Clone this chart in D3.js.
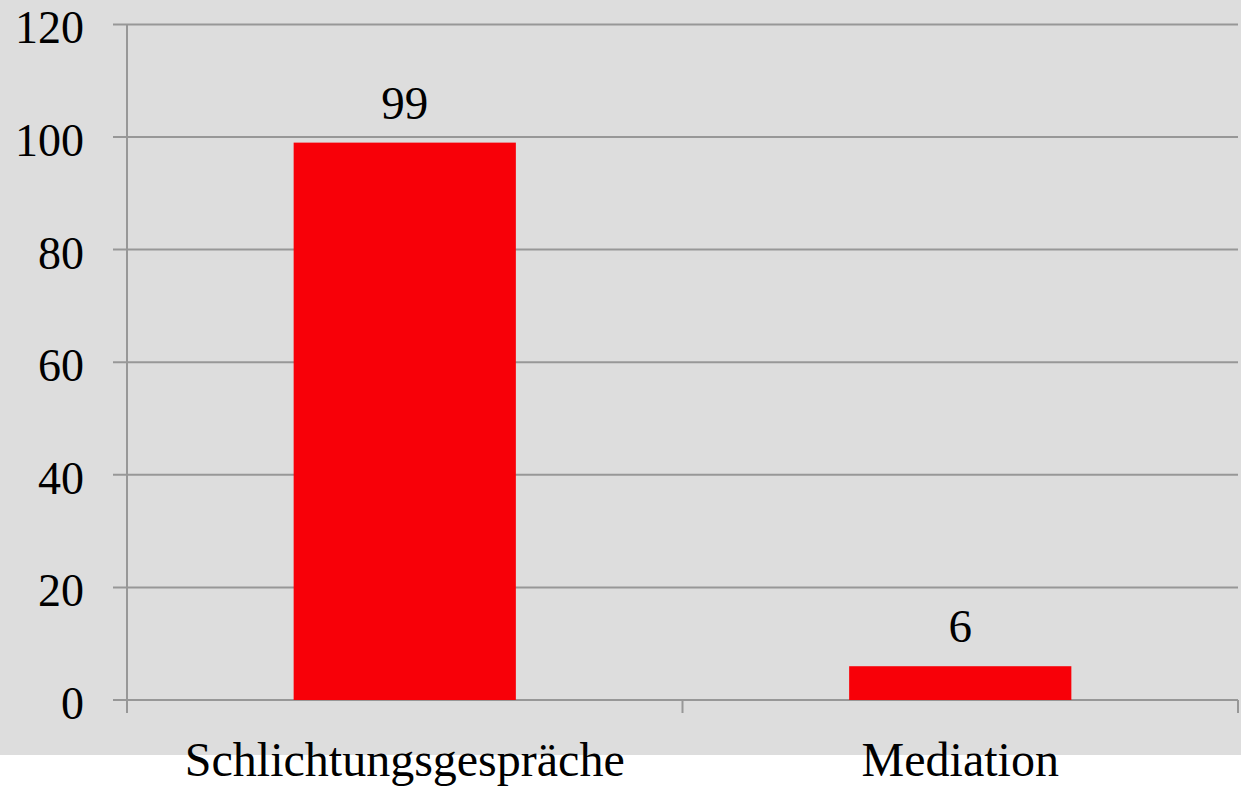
<!DOCTYPE html>
<html>
<head>
<meta charset="utf-8">
<script src="https://cdn.jsdelivr.net/npm/d3@7"></script>
<style>
  body { margin: 0; background: #ffffff; }
  text { font-family: "Liberation Serif", "Times New Roman", serif; fill: #000; }
</style>
</head>
<body>
<div id="chart"></div>
<script>
// data
var categories = ["Schlichtungsgespräche", "Mediation"];
var values = [99, 6];
var yTicks = [0, 20, 40, 60, 80, 100, 120];

var W = 1241, H = 788;
var margin = {top: 24.4, right: 3, bottom: 88, left: 127},
    width = W - margin.left - margin.right,
    height = 700 - margin.top;

var svg = d3.select("#chart")
  .append("svg")
    .attr("width", W)
    .attr("height", H);

// grey plot background (ends above the category labels)
svg.append("rect")
  .attr("x", 0).attr("y", 0)
  .attr("width", W).attr("height", 755)
  .attr("fill", "#dddddd");

var g = svg.append("g")
  .attr("transform", "translate(" + margin.left + "," + margin.top + ")");

var x = d3.scaleBand()
  .domain(categories)
  .range([0, width])
  .padding(0);

var y = d3.scaleLinear()
  .domain([0, 120])
  .range([height, 0]);

// gridlines
g.selectAll(".grid")
  .data(yTicks)
  .enter()
  .append("line")
    .attr("x1", -14)
    .attr("x2", width)
    .attr("y1", function(d) { return y(d); })
    .attr("y2", function(d) { return y(d); })
    .attr("stroke", "#979797")
    .attr("stroke-width", 2);

// y axis line
g.append("line")
  .attr("x1", 0).attr("x2", 0)
  .attr("y1", 0).attr("y2", height + 13)
  .attr("stroke", "#979797")
  .attr("stroke-width", 2);

// y tick labels
g.selectAll(".ylab")
  .data(yTicks)
  .enter()
  .append("text")
    .attr("x", -43)
    .attr("y", function(d) { return y(d) + 19; })
    .attr("text-anchor", "end")
    .style("font-size", "46px")
    .text(function(d) { return d; });

// x category ticks (boundaries)
var bounds = [0].concat(categories.map(function(c) { return x(c) + x.bandwidth(); }));
g.selectAll(".xtick")
  .data(bounds)
  .enter()
  .append("line")
    .attr("x1", function(d) { return d; })
    .attr("x2", function(d) { return d; })
    .attr("y1", height)
    .attr("y2", height + 13)
    .attr("stroke", "#979797")
    .attr("stroke-width", 2);

// bars
var barW = x.bandwidth() * 0.4;
g.selectAll(".bar")
  .data(values)
  .enter()
  .append("rect")
    .attr("x", function(d, i) { return x(categories[i]) + (x.bandwidth() - barW) / 2; })
    .attr("y", function(d) { return y(d); })
    .attr("width", barW)
    .attr("height", function(d) { return height - y(d); })
    .attr("fill", "#f80008");

// value labels
g.selectAll(".val")
  .data(values)
  .enter()
  .append("text")
    .attr("x", function(d, i) { return x(categories[i]) + x.bandwidth() / 2; })
    .attr("y", function(d) { return y(d) - 24; })
    .attr("text-anchor", "middle")
    .style("font-size", "47px")
    .text(function(d) { return d; });

// category labels
g.selectAll(".xlab")
  .data(categories)
  .enter()
  .append("text")
    .attr("x", function(d) { return x(d) + x.bandwidth() / 2; })
    .attr("y", 776 - margin.top)
    .attr("text-anchor", "middle")
    .style("font-size", "48px")
    .text(function(d) { return d; });
</script>
</body>
</html>
